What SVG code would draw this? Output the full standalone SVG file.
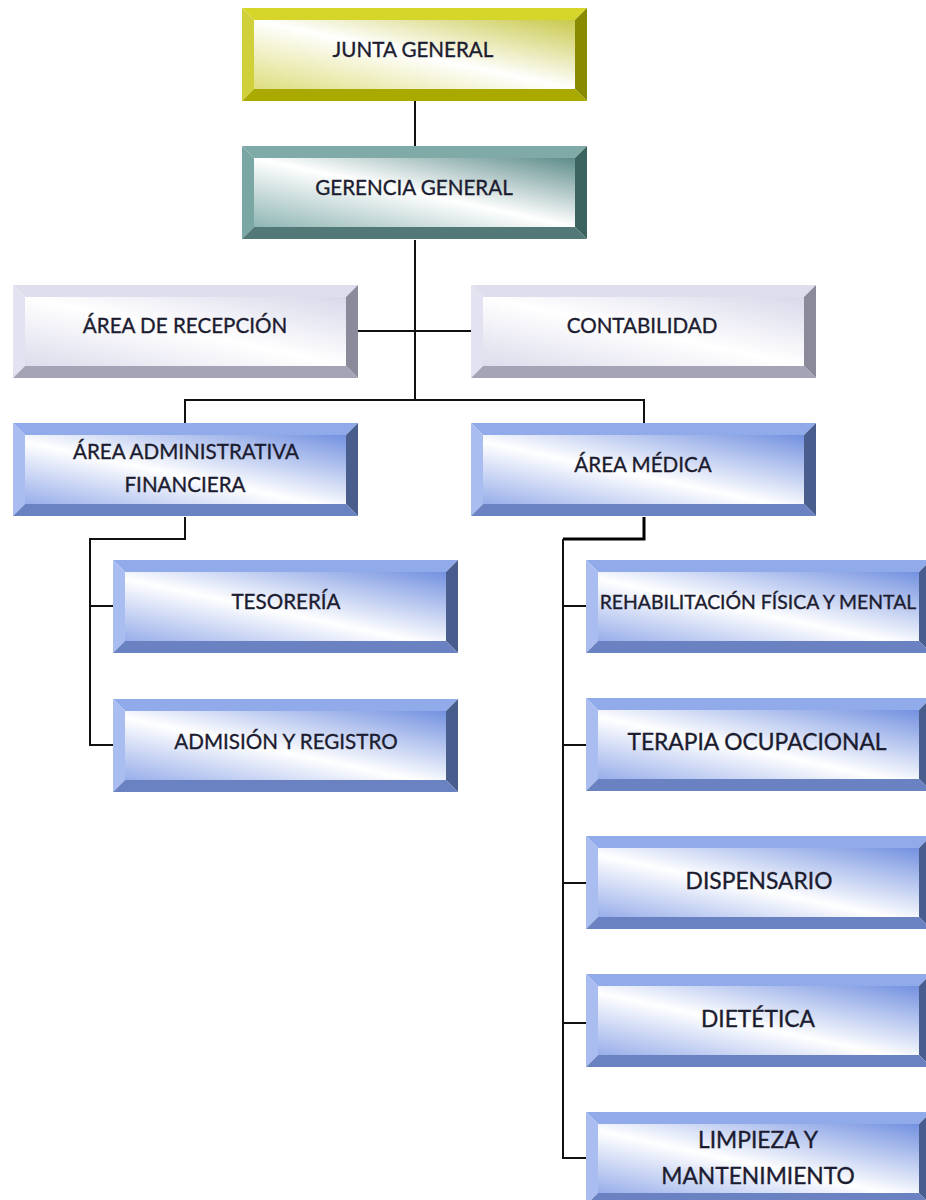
<svg xmlns="http://www.w3.org/2000/svg" xmlns:xlink="http://www.w3.org/1999/xlink" width="926" height="1200" viewBox="0 0 926 1200">
<style>
.t{font-family:Lato,"Liberation Sans",sans-serif;font-size:20.6px;fill:#1c1c30;stroke:#1c1c30;stroke-width:0.35;text-anchor:middle}
.s{font-size:19.4px}
.l{font-size:22.8px}
.c{fill:none;stroke:#111;stroke-width:2}
.ct{fill:none;stroke:#000;stroke-width:3}
</style>
<defs>
<linearGradient id="gY" x1="1" y1="0" x2="0" y2="1"><stop offset="0" stop-color="#c9c94e"/><stop offset="0.5" stop-color="#ffffff"/><stop offset="1" stop-color="#dede80"/></linearGradient>
<linearGradient id="gT" x1="1" y1="0" x2="0" y2="1"><stop offset="0" stop-color="#5d8c8a"/><stop offset="0.5" stop-color="#ffffff"/><stop offset="1" stop-color="#8fb6b4"/></linearGradient>
<linearGradient id="gG" x1="1" y1="0" x2="0" y2="1"><stop offset="0" stop-color="#d8d8ea"/><stop offset="0.5" stop-color="#ffffff"/><stop offset="1" stop-color="#dcdcec"/></linearGradient>
<linearGradient id="gB" x1="1" y1="0" x2="0" y2="1"><stop offset="0" stop-color="#7391e0"/><stop offset="0.55" stop-color="#ffffff"/><stop offset="1" stop-color="#98aeea"/></linearGradient>
<g id="bY">
<polygon points="0,0 345,0 333,12 12,12" fill="#d6d62a"/>
<polygon points="0,0 12,12 12,81 0,93" fill="#d0d03a"/>
<polygon points="345,0 345,93 333,81 333,12" fill="#8a8a00"/>
<polygon points="0,93 12,81 333,81 345,93" fill="#a9a900"/>
<rect x="12" y="12" width="321" height="69" fill="url(#gY)"/>
</g>
<g id="bT">
<polygon points="0,0 345,0 333,12 12,12" fill="#7faaa8"/>
<polygon points="0,0 12,12 12,81 0,93" fill="#7aa6a4"/>
<polygon points="345,0 345,93 333,81 333,12" fill="#3d6361"/>
<polygon points="0,93 12,81 333,81 345,93" fill="#527977"/>
<rect x="12" y="12" width="321" height="69" fill="url(#gT)"/>
</g>
<g id="bG">
<polygon points="0,0 345,0 333,12 12,12" fill="#dedeed"/>
<polygon points="0,0 12,12 12,81 0,93" fill="#e2e2f0"/>
<polygon points="345,0 345,93 333,81 333,12" fill="#8a8a9a"/>
<polygon points="0,93 12,81 333,81 345,93" fill="#a4a4b6"/>
<rect x="12" y="12" width="321" height="69" fill="url(#gG)"/>
</g>
<g id="bB">
<polygon points="0,0 345,0 333,12 12,12" fill="#91abea"/>
<polygon points="0,0 12,12 12,81 0,93" fill="#a9bdf0"/>
<polygon points="345,0 345,93 333,81 333,12" fill="#4a5e8e"/>
<polygon points="0,93 12,81 333,81 345,93" fill="#6a82c2"/>
<rect x="12" y="12" width="321" height="69" fill="url(#gB)"/>
</g>
</defs>
<g id="connectors">
<line class="c" x1="415" y1="101" x2="415" y2="146"/>
<line class="c" x1="415" y1="240" x2="415" y2="400"/>
<line class="c" x1="358" y1="331" x2="471" y2="331"/>
<polyline class="c" points="185,423 185,400 644,400 644,423"/>
<polyline class="c" points="185,517 185,539 90,539 90,745 113,745"/>
<line class="c" x1="90" y1="606" x2="113" y2="606"/>
<polyline class="ct" points="644,517 644,539 563,539"/>
<polyline class="c" points="563,539 563,1158 586,1158"/>
<line class="c" x1="563" y1="606" x2="586" y2="606"/>
<line class="c" x1="563" y1="745" x2="586" y2="745"/>
<line class="c" x1="563" y1="883" x2="586" y2="883"/>
<line class="c" x1="563" y1="1023" x2="586" y2="1023"/>
</g>
<g id="junta"><use xlink:href="#bY" x="242" y="8"/><text class="t" x="413" y="57">JUNTA GENERAL</text></g>
<g id="gerencia"><use xlink:href="#bT" x="242" y="146"/><text class="t" x="414" y="195">GERENCIA GENERAL</text></g>
<g id="recepcion"><use xlink:href="#bG" x="13" y="285"/><text class="t" x="185" y="333">ÁREA DE RECEPCIÓN</text></g>
<g id="contabilidad"><use xlink:href="#bG" x="471" y="285"/><text class="t" x="642" y="333">CONTABILIDAD</text></g>
<g id="administrativa"><use xlink:href="#bB" x="13" y="423"/><text class="t" x="186" y="459">ÁREA ADMINISTRATIVA</text><text class="t" x="185" y="492">FINANCIERA</text></g>
<g id="medica"><use xlink:href="#bB" x="471" y="423"/><text class="t" x="643" y="472">ÁREA MÉDICA</text></g>
<g id="tesoreria"><use xlink:href="#bB" x="113" y="560"/><text class="t" x="286" y="609">TESORERÍA</text></g>
<g id="admision"><use xlink:href="#bB" x="113" y="699"/><text class="t" x="286" y="749">ADMISIÓN Y REGISTRO</text></g>
<g id="rehabilitacion"><use xlink:href="#bB" x="586" y="560"/><text class="t s" x="758" y="609">REHABILITACIÓN FÍSICA Y MENTAL</text></g>
<g id="terapia"><use xlink:href="#bB" x="586" y="698"/><text class="t l" x="757" y="750">TERAPIA OCUPACIONAL</text></g>
<g id="dispensario"><use xlink:href="#bB" x="586" y="836"/><text class="t l" x="759" y="889">DISPENSARIO</text></g>
<g id="dietetica"><use xlink:href="#bB" x="586" y="974"/><text class="t l" x="758" y="1027">DIETÉTICA</text></g>
<g id="limpieza"><use xlink:href="#bB" x="586" y="1112"/><text class="t l" x="758" y="1148">LIMPIEZA Y</text><text class="t l" x="758" y="1184">MANTENIMIENTO</text></g>
</svg>
